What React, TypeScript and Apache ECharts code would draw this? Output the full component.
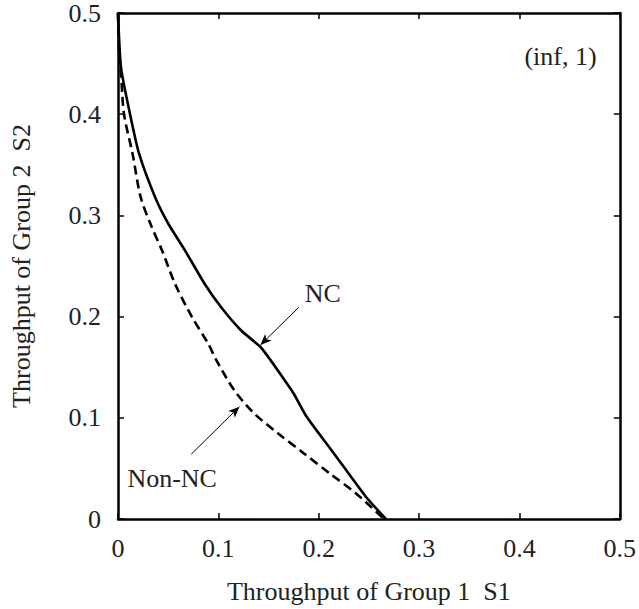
import React, { useEffect, useRef } from "react";
import * as echarts from "echarts";

const xTicks = [0, 0.1, 0.2, 0.3, 0.4, 0.5];
const yTicks = [0, 0.1, 0.2, 0.3, 0.4, 0.5];

const ncX = [0, 0.003, 0.012, 0.021, 0.037, 0.05, 0.067, 0.0866, 0.103, 0.123, 0.142, 0.152, 0.164, 0.175, 0.188, 0.215, 0.247, 0.267];
const ncY = [0.5, 0.446, 0.4, 0.361, 0.318, 0.292, 0.265, 0.232, 0.209, 0.186, 0.17, 0.157, 0.14, 0.124, 0.101, 0.065, 0.022, 0];

const nonX = [0, 0.001, 0.003, 0.006, 0.0145, 0.0226, 0.033, 0.044, 0.057, 0.0735, 0.09, 0.098, 0.116, 0.136, 0.159, 0.185, 0.211, 0.2375, 0.265];
const nonY = [0.5, 0.46, 0.44, 0.4, 0.361, 0.318, 0.29, 0.265, 0.232, 0.2, 0.173, 0.157, 0.127, 0.104, 0.085, 0.065, 0.045, 0.025, 0];

const arrowNC = [[0.18, 0.209], [0.142, 0.172]];
const arrowNon = [[0.073, 0.064], [0.121, 0.111]];

const labelNC = { text: "NC", at: [0.204, 0.223] };
const labelNon = { text: "Non-NC", at: [0.054, 0.04] };
const labelCase = { text: "(inf, 1)", at: [0.441, 0.457] };

const FONT = "'Liberation Serif', 'DejaVu Serif', serif";
const INK = "#222";

export default function App() {
  const ref = useRef<HTMLDivElement>(null);
  useEffect(() => {
    document.body.style.margin = "0";
    const chart = echarts.init(ref.current!, null, { renderer: "svg" });
    const tickAxisCommon = {
      min: 0,
      max: 0.5,
      interval: 0.1,
      axisLine: { show: true, onZero: false, lineStyle: { color: "#000", width: 2.5 } },
      axisTick: { show: true, inside: true, length: 6, lineStyle: { color: "#000", width: 1.5 } },
      splitLine: { show: false },
    };
    const labelStyle = { fontFamily: FONT, fontSize: 26, color: INK };
    const fmt = (ticks: number[]) => (v: number) => {
      const r = +v.toFixed(1);
      return ticks.includes(r) ? String(r) : "";
    };
    const textPoint = (l: { text: string; at: number[] }) => ({
      coord: l.at,
      symbol: "circle",
      symbolSize: 0,
      label: { show: true, position: "inside", formatter: l.text, ...labelStyle },
    });
    chart.setOption({
      animation: false,
      backgroundColor: "#fff",
      grid: { left: 112, right: 19, top: 12, bottom: 90 },
      xAxis: [
        {
          type: "value",
          position: "bottom",
          ...tickAxisCommon,
          axisLabel: { ...labelStyle, margin: 16, formatter: fmt(xTicks) },
          name: "Throughput of Group 1  S1",
          nameLocation: "middle",
          nameGap: 59,
          nameTextStyle: labelStyle,
        },
        { type: "value", position: "top", ...tickAxisCommon, axisLabel: { show: false } },
      ],
      yAxis: [
        {
          type: "value",
          position: "left",
          ...tickAxisCommon,
          axisLabel: { ...labelStyle, margin: 17, formatter: fmt(yTicks) },
          name: "Throughput of Group 2  S2",
          nameLocation: "middle",
          nameGap: 84,
          nameTextStyle: labelStyle,
        },
        { type: "value", position: "right", ...tickAxisCommon, axisLabel: { show: false } },
      ],
      series: [
        {
          name: "NC",
          type: "line",
          data: ncX.map((x, i) => [x, ncY[i]]),
          showSymbol: false,
          smooth: 0.2,
          lineStyle: { color: "#000", width: 2.6, type: "solid" },
          markLine: {
            silent: true,
            symbol: ["none", "arrow"],
            symbolSize: [7, 11],
            lineStyle: { color: "#000", width: 1, type: "solid" },
            label: { show: false },
            data: [
              [{ coord: arrowNC[0] }, { coord: arrowNC[1] }],
              [{ coord: arrowNon[0] }, { coord: arrowNon[1] }],
            ],
          },
          markPoint: {
            silent: true,
            data: [textPoint(labelNC), textPoint(labelNon), textPoint(labelCase)],
          },
        },
        {
          name: "Non-NC",
          type: "line",
          data: nonX.map((x, i) => [x, nonY[i]]),
          showSymbol: false,
          smooth: 0.3,
          lineStyle: { color: "#000", width: 2.6, type: [9, 5] },
        },
      ],
    });
    return () => chart.dispose();
  }, []);
  return <div ref={ref} style={{ position: "absolute", left: 0, top: 0, width: 639, height: 609 }} />;
}
